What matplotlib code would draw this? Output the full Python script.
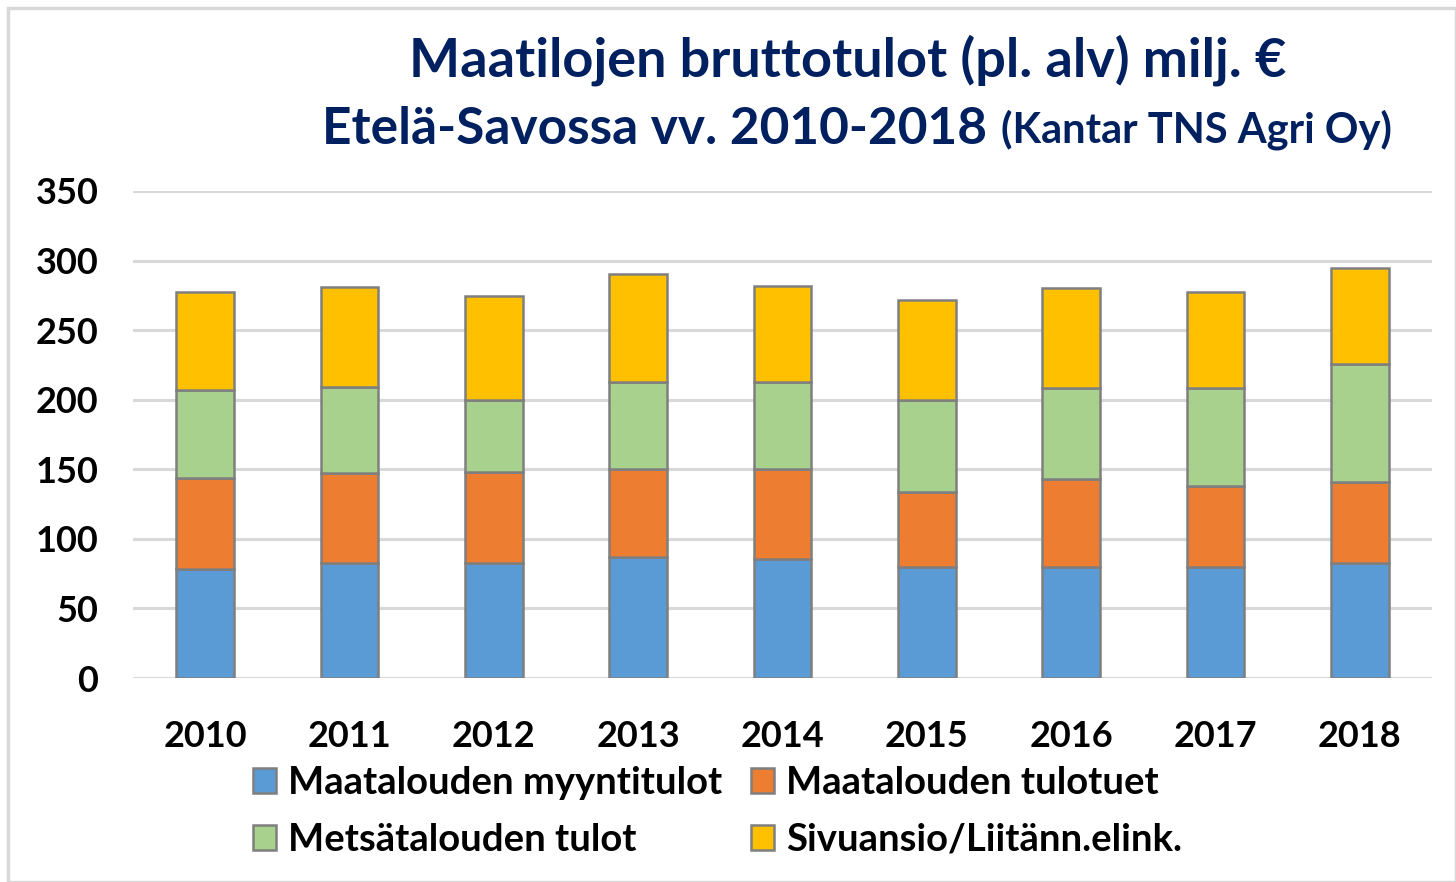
import matplotlib.pyplot as plt
import numpy as np
from matplotlib.patches import Rectangle

# ====== DATA ======
vuodet = ['2010', '2011', '2012', '2013', '2014', '2015', '2016', '2017', '2018']
myyntitulot = [78, 83, 83, 87, 85.5, 80, 80, 80, 83]
tulotuet = [66, 64, 65, 63, 64.5, 54, 63, 58, 58]
metsatalous = [63, 62, 52, 63, 63, 66, 65.5, 70.5, 85]
sivuansio = [70.5, 72, 74.5, 77, 69, 71.7, 72, 69, 68.5]

sarjat = ['Maatalouden myyntitulot', 'Maatalouden tulotuet',
          'Metsätalouden tulot', 'Sivuansio/Liitänn.elink.']
varit = ['#5b9bd5', '#ed7d31', '#a9d18e', '#ffc000']
y_ticks = [0, 50, 100, 150, 200, 250, 300, 350]

plt.rcParams['font.family'] = ['Lato', 'DejaVu Sans']
plt.rcParams['font.weight'] = 'bold'

W, H = 1456, 882
fig = plt.figure(figsize=(W / 100, H / 100), dpi=100)
ax = fig.add_axes([133 / W, 1 - 678 / H, (1432 - 133) / W, (678 - 191) / H])

# ====== PALKIT ======
x = np.arange(len(vuodet))
pohja = np.zeros(len(vuodet))
palkit = []
for arvot, vari in zip([myyntitulot, tulotuet, metsatalous, sivuansio], varit):
    b = ax.bar(x, arvot, 0.4, bottom=pohja, color=vari, edgecolor='#7f7f7f',
               linewidth=1.8, zorder=3)
    palkit.append(b)
    pohja = pohja + np.array(arvot)

ax.set_xlim(-0.5, len(vuodet) - 0.5)
ax.set_ylim(0, 350)
ax.set_yticks(y_ticks)
ax.set_yticklabels([str(t) for t in y_ticks], fontsize=26, fontweight='bold')
ax.set_xticks(x)
ax.set_xticklabels(vuodet, fontsize=26, fontweight='bold')
ax.tick_params(axis='both', length=0)
ax.tick_params(axis='y', pad=25)
ax.tick_params(axis='x', pad=30)
ax.grid(axis='y', color='#d9d9d9', linewidth=2.2, zorder=0)
for s in ax.spines.values():
    s.set_visible(False)

# ====== OTSIKKO ======
otsikon_vari = '#002060'
fig.text(848 / W, 1 - 60 / H, 'Maatilojen bruttotulot (pl. alv) milj. €',
         ha='center', va='center', fontsize=39, fontweight='bold', color=otsikon_vari)
t2 = fig.text(1392 / W, 1 - 130 / H, '(Kantar TNS Agri Oy)', ha='right', va='center',
              fontsize=30, fontweight='bold', color=otsikon_vari)
fig.canvas.draw()
vasen = t2.get_window_extent().x0
fig.text((vasen - 14) / W, 1 - 130 / H, 'Etelä-Savossa vv. 2010-2018', ha='right',
         va='center', fontsize=37, fontweight='bold', color=otsikon_vari)

# ====== SELITE ======
jarjestys = [0, 2, 1, 3]
leg = fig.legend([palkit[i] for i in jarjestys], [sarjat[i] for i in jarjestys],
                 ncol=2, loc='upper left', bbox_to_anchor=(253 / W, 1 - 766 / H),
                 frameon=False, prop={'size': 27.5, 'weight': 'bold'},
                 borderpad=0, borderaxespad=0,
                 handlelength=0.6, handleheight=0.6, handletextpad=0.32,
                 columnspacing=0.75, labelspacing=0.6)

# kehys
fig.add_artist(Rectangle((8 / W, 0), 1 - 8 / W, 1 - 8 / H, transform=fig.transFigure,
                         fill=False, edgecolor='#d9d9d9', linewidth=2.5))

fig.savefig('out.png', dpi=100)
